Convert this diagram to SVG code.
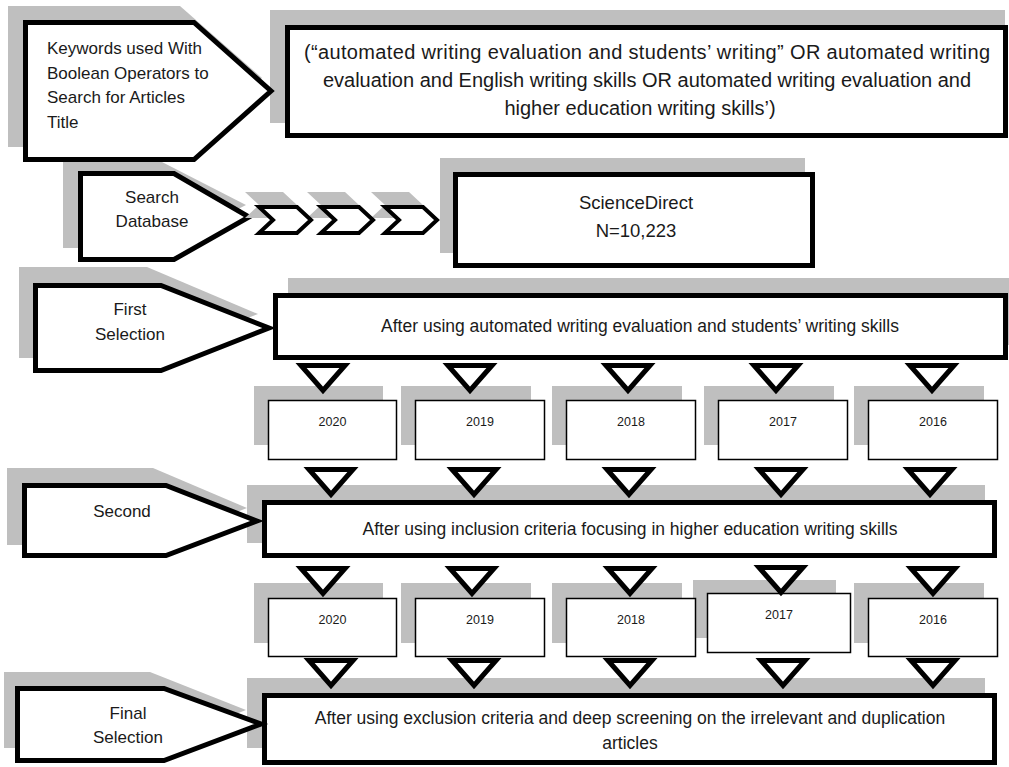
<svg xmlns="http://www.w3.org/2000/svg" xmlns:xlink="http://www.w3.org/1999/xlink" width="1009" height="767" viewBox="0 0 1009 767">
<defs>
<style>
.sh{fill:#bfbfbf;stroke:none}
.thick{fill:#fff;stroke:#000;stroke-width:5;stroke-linejoin:miter}
.thin{fill:#fff;stroke:#000;stroke-width:1.5}
.t{font-family:"Liberation Sans",Arial,sans-serif;fill:#1a1a1a}
.big{font-size:20px;text-anchor:middle}
.mid{font-size:17.5px;text-anchor:middle}
.sd{font-size:18.5px;text-anchor:middle}
.lab{font-size:17px}
.c{text-anchor:middle}
.yr{font-size:12.5px;text-anchor:middle}
.tri{fill:#fff;stroke:#000;stroke-width:5;stroke-linejoin:miter}
.chev{fill:#fff;stroke:#000;stroke-width:4;stroke-linejoin:miter}
</style>
<path id="tri" d="M-22,0 H22 L0,25 Z"/>
<path id="chev" d="M0,0 H38 L52,13 L38,26 H0 L14,13 Z"/>
</defs>
<rect width="1009" height="767" fill="#fff"/>

<g id="node-query">
<rect class="sh" x="270" y="10" width="735" height="113"/>
<rect class="thick" x="287.5" y="27.5" width="718" height="108"/>
<text class="t big" x="647" y="59" textLength="686" lengthAdjust="spacing">(“automated writing evaluation and students’ writing” OR automated writing</text>
<text class="t big" x="647" y="87">evaluation and English writing skills OR automated writing evaluation and</text>
<text class="t big" x="640" y="115">higher education writing skills’)</text>
</g>

<g id="node-keywords">
<polygon class="sh" points="8,6 180,6 262,78 180,147 8,147"/>
<polygon class="thick" points="25.5,22.5 194,22.5 271,91 194,159.5 25.5,159.5"/>
<text class="t lab" x="47" y="54">Keywords used With</text>
<text class="t lab" x="47" y="79">Boolean Operators to</text>
<text class="t lab" x="47" y="103">Search for Articles</text>
<text class="t lab" x="47" y="128">Title</text>
</g>

<g id="node-sciencedirect">
<rect class="sh" x="440" y="158" width="365" height="95"/>
<rect class="thick" x="455.5" y="174.5" width="357" height="91"/>
<text class="t sd" x="636" y="209">ScienceDirect</text>
<text class="t sd" x="636" y="237">N=10,223</text>
</g>

<g id="node-search">
<polygon class="sh" points="63,162 162,162 246,205 162,248 63,248"/>
<polygon class="thick" points="80.5,173.5 174,173.5 249,217 174,259.5 80.5,259.5"/>
<text class="t lab c" x="152" y="203">Search</text>
<text class="t lab c" x="152" y="227">Database</text>
</g>

<g id="node-first-rect">
<rect class="sh" x="288" y="278" width="721" height="67"/>
<rect class="thick" x="275.5" y="295.5" width="730" height="62"/>
<text class="t mid" x="640" y="332">After using automated writing evaluation and students’ writing skills</text>
</g>

<g id="node-first">
<polygon class="sh" points="19,267 147,267 258,314 147,358 19,358"/>
<polygon class="thick" points="35.5,285.5 161,285.5 269,328 161,370.5 35.5,370.5"/>
<text class="t lab c" x="130" y="315">First</text>
<text class="t lab c" x="130" y="340">Selection</text>
</g>

<g id="node-years-1">
<rect class="sh" x="254" y="386" width="129" height="59"/>
<rect class="sh" x="401" y="386" width="130" height="59"/>
<rect class="sh" x="552" y="386" width="130" height="59"/>
<rect class="sh" x="704" y="386" width="130" height="59"/>
<rect class="sh" x="854" y="386" width="130" height="59"/>
<rect class="thin" x="268.5" y="400.5" width="128" height="59"/>
<rect class="thin" x="415.5" y="400.5" width="129" height="59"/>
<rect class="thin" x="566.5" y="400.5" width="129" height="59"/>
<rect class="thin" x="718.5" y="400.5" width="129" height="59"/>
<rect class="thin" x="868.5" y="400.5" width="129" height="59"/>
<text class="t yr" x="332.5" y="426">2020</text>
<text class="t yr" x="480" y="426">2019</text>
<text class="t yr" x="631" y="426">2018</text>
<text class="t yr" x="783" y="426">2017</text>
<text class="t yr" x="933" y="426">2016</text>
</g>

<g id="node-second-rect">
<rect class="sh" x="247" y="485" width="738" height="58"/>
<rect class="thick" x="264.5" y="502.5" width="730" height="53"/>
<text class="t mid" x="630" y="535">After using inclusion criteria focusing in higher education writing skills</text>
</g>

<g id="node-second">
<polygon class="sh" points="7,468 153,468 247,508 153,545 7,545"/>
<polygon class="thick" points="24.5,485.5 166,485.5 257,521 166,555.5 24.5,555.5"/>
<text class="t lab c" x="122" y="517">Second</text>
</g>

<g id="node-years-2">
<rect class="sh" x="254" y="583" width="129" height="60"/>
<rect class="sh" x="401" y="583" width="130" height="60"/>
<rect class="sh" x="552" y="583" width="130" height="60"/>
<rect class="sh" x="693" y="580" width="143" height="58"/>
<rect class="sh" x="854" y="583" width="130" height="60"/>
<rect class="thin" x="268.5" y="598.5" width="128" height="58"/>
<rect class="thin" x="415.5" y="598.5" width="129" height="58"/>
<rect class="thin" x="566.5" y="598.5" width="129" height="58"/>
<rect class="thin" x="707.5" y="593.5" width="143" height="59"/>
<rect class="thin" x="868.5" y="598.5" width="129" height="58"/>
<text class="t yr" x="332.5" y="624">2020</text>
<text class="t yr" x="480" y="624">2019</text>
<text class="t yr" x="631" y="624">2018</text>
<text class="t yr" x="779" y="619">2017</text>
<text class="t yr" x="933" y="624">2016</text>
</g>

<g id="node-final-rect">
<rect class="sh" x="247" y="678" width="738" height="70"/>
<rect class="thick" x="264.5" y="695.5" width="730" height="67"/>
<text class="t mid" x="630" y="724">After using exclusion criteria and deep screening on the irrelevant and duplication</text>
<text class="t mid" x="630" y="749">articles</text>
</g>

<g id="node-final">
<polygon class="sh" points="4,672 150,672 246,710 150,748 4,748"/>
<polygon class="thick" points="17.5,688.5 164,688.5 261,724 164,760.5 17.5,760.5"/>
<text class="t lab c" x="128" y="719">Final</text>
<text class="t lab c" x="128" y="743">Selection</text>
</g>

<g id="connectors">
<use href="#chev" class="sh" transform="translate(245,192)"/>
<use href="#chev" class="sh" transform="translate(307,192)"/>
<use href="#chev" class="sh" transform="translate(371,192)"/>
<use href="#chev" class="chev" transform="translate(259,207)"/>
<use href="#chev" class="chev" transform="translate(321,207)"/>
<use href="#chev" class="chev" transform="translate(385,207)"/>

<use href="#tri" class="tri" transform="translate(323,365.5)"/>
<use href="#tri" class="tri" transform="translate(470,365.5)"/>
<use href="#tri" class="tri" transform="translate(628,365.5)"/>
<use href="#tri" class="tri" transform="translate(776,365.5)"/>
<use href="#tri" class="tri" transform="translate(932,365.5)"/>

<use href="#tri" class="tri" transform="translate(331,469.5)"/>
<use href="#tri" class="tri" transform="translate(474,469.5)"/>
<use href="#tri" class="tri" transform="translate(629,469.5)"/>
<use href="#tri" class="tri" transform="translate(781,469.5)"/>
<use href="#tri" class="tri" transform="translate(930,469.5)"/>

<use href="#tri" class="tri" transform="translate(323,568.5)"/>
<use href="#tri" class="tri" transform="translate(472,568.5)"/>
<use href="#tri" class="tri" transform="translate(630,568.5)"/>
<use href="#tri" class="tri" transform="translate(781,567.5)"/>
<use href="#tri" class="tri" transform="translate(933,568.5)"/>

<use href="#tri" class="tri" transform="translate(331,660.5)"/>
<use href="#tri" class="tri" transform="translate(474,660.5)"/>
<use href="#tri" class="tri" transform="translate(630,660.5)"/>
<use href="#tri" class="tri" transform="translate(783,660.5)"/>
<use href="#tri" class="tri" transform="translate(933,660.5)"/>
</g>
</svg>
